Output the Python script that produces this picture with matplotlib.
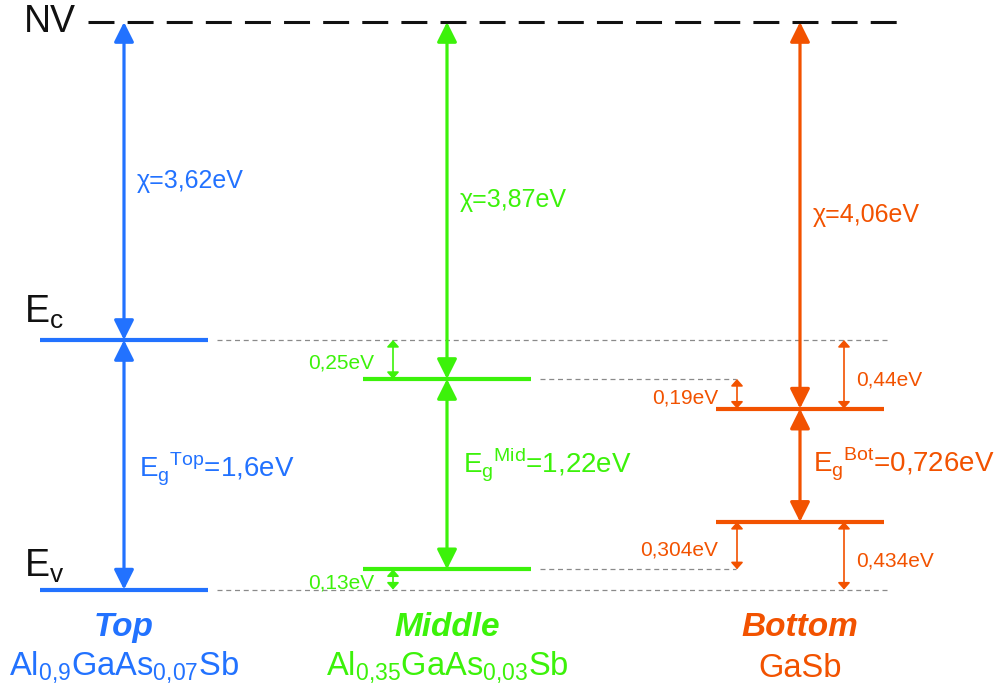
import matplotlib.pyplot as plt

plt.rcParams['font.family'] = ['Liberation Sans', 'DejaVu Sans']

# band data (eV)
layers = ['Top', 'Middle', 'Bottom']
tags = ['Top', 'Mid', 'Bot']
formulas = [r'Al$_\mathregular{0{,}9}$GaAs$_\mathregular{0{,}07}$Sb',
            r'Al$_\mathregular{0{,}35}$GaAs$_\mathregular{0{,}03}$Sb',
            'GaSb']
chi = [3.62, 3.87, 4.06]      # electron affinity
eg = [1.6, 1.22, 0.726]       # band gap
colors = ['#2272FF', '#3CF20A', '#F25200']

Ec = [-c for c in chi]
Ev = [-c - g for c, g in zip(chi, eg)]

# layout
xc = [124, 447, 800]          # column centres
half = 84
PXE = 156.0                   # px per eV
y_top = Ec[0] + 340 / PXE
y_bot = Ec[0] - 350 / PXE
nv_y = Ec[0] + 318 / PXE      # vacuum level drawn with a broken scale
eg_base = [477, 472, 472]     # baseline of the gap labels (px)
eg_dx = [15, 16, 13]

def py(p):
    return y_top - p / PXE

def fmt(v):
    return ('%g' % round(v, 3)).replace('.', ',')

fig = plt.figure(figsize=(9.99, 6.9), dpi=100)
ax = fig.add_axes([0, 0, 1, 1])
ax.set_xlim(0, 999)
ax.set_ylim(y_bot, y_top)
ax.axis('off')

def arrow(x, y0, y1, color, big=True):
    if big:
        st = '<|-|>,head_length=0.6,head_width=0.3'
        ax.annotate('', xy=(x, y1), xytext=(x, y0),
                    arrowprops=dict(arrowstyle=st, mutation_scale=20, lw=2.3,
                                    color=color, shrinkA=0, shrinkB=0))
    else:
        st = '<|-|>,head_length=0.45,head_width=0.4'
        ax.annotate('', xy=(x, y1), xytext=(x, y0),
                    arrowprops=dict(arrowstyle=st, mutation_scale=9, lw=1.2,
                                    color=color, shrinkA=0, shrinkB=0))

# vacuum level
ax.plot([88, 905], [nv_y, nv_y], color='#111111', lw=2.2, ls=(0, (8.5, 4.3)))
ax.text(24, nv_y, 'NV', fontsize=27, va='center', ha='left', color='#111111')

# dotted reference lines
grey = dict(color='#8a8a8a', lw=0.9, ls=(0, (4, 3)))
ax.plot([217, 890], [Ec[0], Ec[0]], **grey)
ax.plot([217, 890], [Ev[0], Ev[0]], **grey)
ax.plot([540, 736], [Ec[1], Ec[1]], **grey)
ax.plot([540, 736], [Ev[1], Ev[1]], **grey)

for i in range(3):
    c = colors[i]
    x = xc[i]
    ax.plot([x - half, x + half], [Ec[i], Ec[i]], color=c, lw=3, solid_capstyle='butt')
    ax.plot([x - half, x + half], [Ev[i], Ev[i]], color=c, lw=3, solid_capstyle='butt')
    arrow(x, nv_y, Ec[i], c)
    arrow(x, Ec[i], Ev[i], c)
    ax.text(x + 13, (nv_y + Ec[i]) / 2, 'χ=' + fmt(chi[i]) + 'eV', color=c,
            fontsize=18, va='center', ha='left')
    ax.text(x + eg_dx[i], py(eg_base[i]),
            r'E$_\mathregular{g}$$^\mathregular{%s}$=%seV' % (tags[i], fmt(eg[i])),
            color=c, fontsize=20, va='baseline', ha='left')
    ax.text(x, py(628), layers[i], color=c, fontsize=24, fontweight='bold',
            fontstyle='italic', ha='center', va='center')
    ax.text(x, py(668), formulas[i], color=c, fontsize=23.5, ha='center', va='center')

ax.text(24, Ec[0] + 0.18, r'E$_\mathregular{c}$', fontsize=27, va='center', ha='left',
        color='#111111')
ax.text(24, Ev[0] + 0.15, r'E$_\mathregular{v}$', fontsize=27, va='center', ha='left',
        color='#111111')

# band offsets
offsets = [
    (393, Ec[0], Ec[1], colors[1], 'left'),
    (393, Ev[1], Ev[0], colors[1], 'left'),
    (737, Ec[1], Ec[2], colors[2], 'left'),
    (844, Ec[0], Ec[2], colors[2], 'right'),
    (737, Ev[2], Ev[1], colors[2], 'left'),
    (844, Ev[2], Ev[0], colors[2], 'right'),
]
for x, y0, y1, c, side in offsets:
    arrow(x, y0, y1, c, big=False)
    lab = fmt(abs(y0 - y1)) + 'eV'
    ym = (y0 + y1) / 2
    if side == 'left':
        ax.text(x - 19, ym - 0.025, lab, color=c, fontsize=15, ha='right', va='center')
    else:
        ax.text(x + 12, ym - 0.035, lab, color=c, fontsize=15, ha='left', va='center')

fig.savefig('out.png', dpi=100)
